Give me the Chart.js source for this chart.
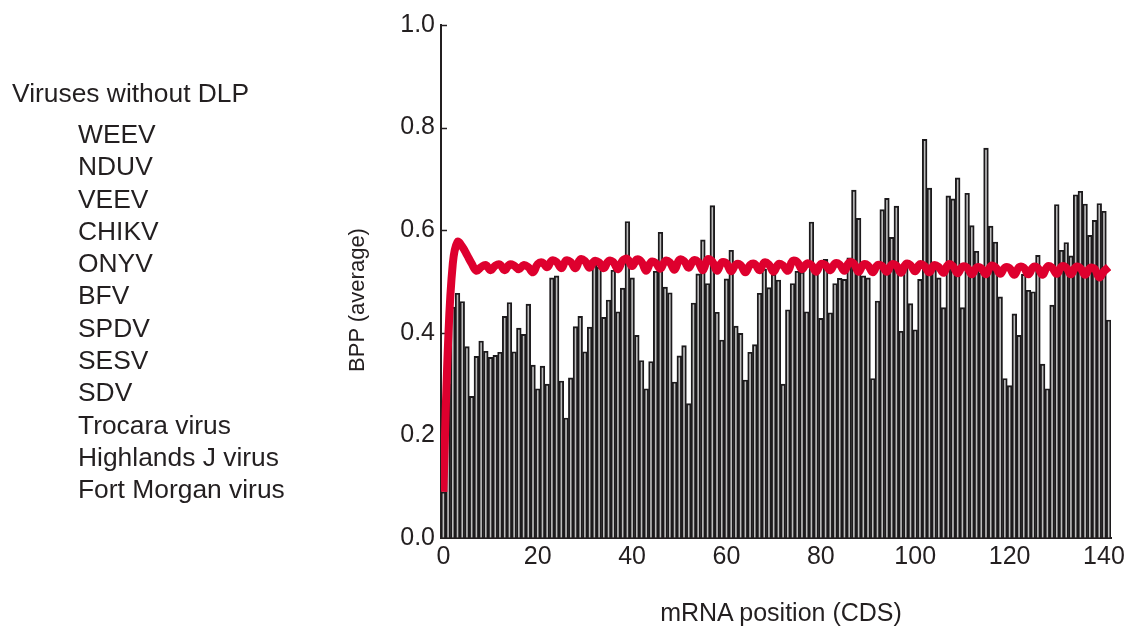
<!DOCTYPE html>
<html>
<head>
<meta charset="utf-8">
<script src="https://cdn.jsdelivr.net/npm/chart.js@4.4.1/dist/chart.umd.min.js"></script>
<style>
  body { margin: 0; background: #fff; font-family: "Liberation Sans", Arial, sans-serif; color: #231f20; }
  #wrap { position: relative; width: 1129px; height: 629px; }
  #chart { position: absolute; left: 0; top: 0; }
  .side-title { position: absolute; left: 12px; top: 77px; font-size: 26.4px; line-height: 32.3px; white-space: nowrap; }
  .side-list { position: absolute; left: 78px; top: 118px; font-size: 26.4px; line-height: 32.3px; white-space: nowrap; }
  .x-title { position: absolute; left: 581px; width: 400px; top: 597px; font-size: 25px; line-height: 30px; text-align: center; }
  .y-title { position: absolute; left: 257px; width: 200px; top: 287px; font-size: 22px; line-height: 26px; text-align: center; transform: rotate(-90deg); }
</style>
</head>
<body>
<div id="wrap">
  <canvas id="chart" width="1129" height="629"></canvas>
  <div class="side-title">Viruses without DLP</div>
  <div class="side-list" id="virus-list"></div>
  <div class="x-title">mRNA position (CDS)</div>
  <div class="y-title">BPP (average)</div>
</div>
<script>
// Virus group listed at the left
const viruses = ["WEEV", "NDUV", "VEEV", "CHIKV", "ONYV", "BFV", "SPDV", "SESV", "SDV",
    "Trocara virus", "Highlands J virus", "Fort Morgan virus"];

// Average BPP per mRNA position (bars), position = index 0..141
const bppValues = [
    0.09, 0.30, 0.45, 0.477, 0.461, 0.373, 0.276, 0.354, 0.384, 0.364,
    0.352, 0.356, 0.362, 0.432, 0.459, 0.363, 0.409, 0.397, 0.456, 0.337,
    0.291, 0.335, 0.300, 0.507, 0.511, 0.306, 0.234, 0.312, 0.412, 0.432,
    0.363, 0.411, 0.545, 0.528, 0.430, 0.464, 0.522, 0.441, 0.487, 0.617,
    0.507, 0.395, 0.346, 0.291, 0.344, 0.520, 0.596, 0.489, 0.478, 0.304,
    0.355, 0.375, 0.262, 0.458, 0.515, 0.581, 0.496, 0.648, 0.440, 0.386,
    0.505, 0.561, 0.413, 0.399, 0.308, 0.362, 0.377, 0.477, 0.524, 0.488,
    0.514, 0.503, 0.300, 0.445, 0.496, 0.520, 0.518, 0.441, 0.616, 0.531,
    0.428, 0.543, 0.439, 0.496, 0.506, 0.504, 0.546, 0.678, 0.623, 0.511,
    0.507, 0.311, 0.462, 0.640, 0.662, 0.586, 0.647, 0.403, 0.538, 0.457,
    0.406, 0.504, 0.777, 0.682, 0.527, 0.507, 0.449, 0.667, 0.661, 0.702,
    0.449, 0.672, 0.609, 0.559, 0.517, 0.760, 0.608, 0.577, 0.470, 0.311,
    0.297, 0.437, 0.395, 0.514, 0.483, 0.480, 0.551, 0.339, 0.291, 0.454,
    0.650, 0.561, 0.576, 0.550, 0.669, 0.676, 0.651, 0.590, 0.619, 0.652,
    0.637, 0.425
];

// Red reference line (average over shuffled sequences)
const shuffledValues = [
    0.09, 0.38, 0.535, 0.577, 0.568, 0.552, 0.535, 0.521, 0.528, 0.532,
    0.522, 0.531, 0.533, 0.522, 0.533, 0.531, 0.524, 0.532, 0.528, 0.518,
    0.534, 0.537, 0.528, 0.541, 0.538, 0.526, 0.541, 0.538, 0.526, 0.543,
    0.540, 0.527, 0.540, 0.537, 0.526, 0.540, 0.538, 0.524, 0.541, 0.544,
    0.530, 0.543, 0.538, 0.521, 0.538, 0.536, 0.525, 0.540, 0.537, 0.523,
    0.542, 0.540, 0.527, 0.541, 0.538, 0.522, 0.543, 0.539, 0.521, 0.537,
    0.535, 0.520, 0.533, 0.532, 0.518, 0.532, 0.534, 0.522, 0.537, 0.533,
    0.519, 0.534, 0.531, 0.521, 0.540, 0.538, 0.524, 0.535, 0.532, 0.519,
    0.534, 0.532, 0.522, 0.535, 0.533, 0.521, 0.537, 0.535, 0.519, 0.533,
    0.531, 0.518, 0.532, 0.530, 0.519, 0.533, 0.531, 0.517, 0.534, 0.532,
    0.520, 0.534, 0.530, 0.518, 0.532, 0.528, 0.517, 0.533, 0.530, 0.516,
    0.529, 0.527, 0.514, 0.527, 0.526, 0.514, 0.530, 0.528, 0.515, 0.527,
    0.526, 0.513, 0.528, 0.527, 0.514, 0.528, 0.526, 0.513, 0.529, 0.527,
    0.515, 0.529, 0.527, 0.514, 0.528, 0.526, 0.513, 0.526, 0.525, 0.508,
    0.520, 0.528
];

const xTicks = [0, 20, 40, 60, 80, 100, 120, 140];
const yTicks = [0, 0.2, 0.4, 0.6, 0.8, 1.0];

// Fill the side list
const list = document.getElementById("virus-list");
viruses.forEach((name) => {
    const row = document.createElement("div");
    row.textContent = name;
    list.appendChild(row);
});

const ink = "#231f20";
const tickFont = { family: "'Liberation Sans', Arial, sans-serif", size: 25 };

// short inward tick marks on the y axis
const innerTicks = {
    id: "innerTicks",
    beforeDatasetsDraw(chart) {
        const ctx = chart.ctx;
        const y = chart.scales.y;
        const left = chart.chartArea.left;
        ctx.save();
        ctx.strokeStyle = ink;
        ctx.lineWidth = 1.5;
        yTicks.slice(1).forEach((v) => {
            const py = Math.round(y.getPixelForValue(v)) + 0.5;
            ctx.beginPath();
            ctx.moveTo(left, py);
            ctx.lineTo(left + 6, py);
            ctx.stroke();
        });
        ctx.restore();
    }
};

new Chart(document.getElementById("chart"), {
    type: "bar",
    data: {
        datasets: [
            {
                type: "line",
                data: shuffledValues.map((v, i) => ({ x: i, y: v })),
                borderColor: "#de002e",
                borderWidth: 8,
                pointRadius: 0,
                tension: 0.4,
                order: 0
            },
            {
                type: "bar",
                data: bppValues.map((v, i) => ({ x: i, y: v })),
                backgroundColor: "#bdbdbd",
                borderColor: "#1c1a1c",
                borderWidth: 1.9,
                barPercentage: 1,
                categoryPercentage: 1,
                order: 1
            }
        ]
    },
    options: {
        responsive: false,
        animation: false,
        devicePixelRatio: 1,
        layout: { padding: { left: 341, right: 17, top: 25, bottom: 0 } },
        plugins: { legend: { display: false }, tooltip: { enabled: false } },
        scales: {
            x: {
                type: "linear",
                offset: false,
                min: -0.5,
                max: 141.5,
                afterFit: (s) => { s.height = 91; },
                afterBuildTicks: (s) => { s.ticks = xTicks.map((v) => ({ value: v })); },
                border: { display: true, color: ink, width: 2 },
                grid: { display: false, drawTicks: false },
                ticks: { color: ink, font: tickFont, padding: 4, maxRotation: 0 }
            },
            y: {
                min: 0,
                max: 1,
                afterFit: (s) => { s.width = 100; },
                afterBuildTicks: (s) => { s.ticks = yTicks.map((v) => ({ value: v })); },
                border: { display: true, color: ink, width: 2 },
                grid: { drawOnChartArea: false, drawTicks: false },
                ticks: { color: ink, font: tickFont, padding: 6, callback: (v) => v.toFixed(1) }
            }
        }
    },
    plugins: [innerTicks]
});
</script>
</body>
</html>
